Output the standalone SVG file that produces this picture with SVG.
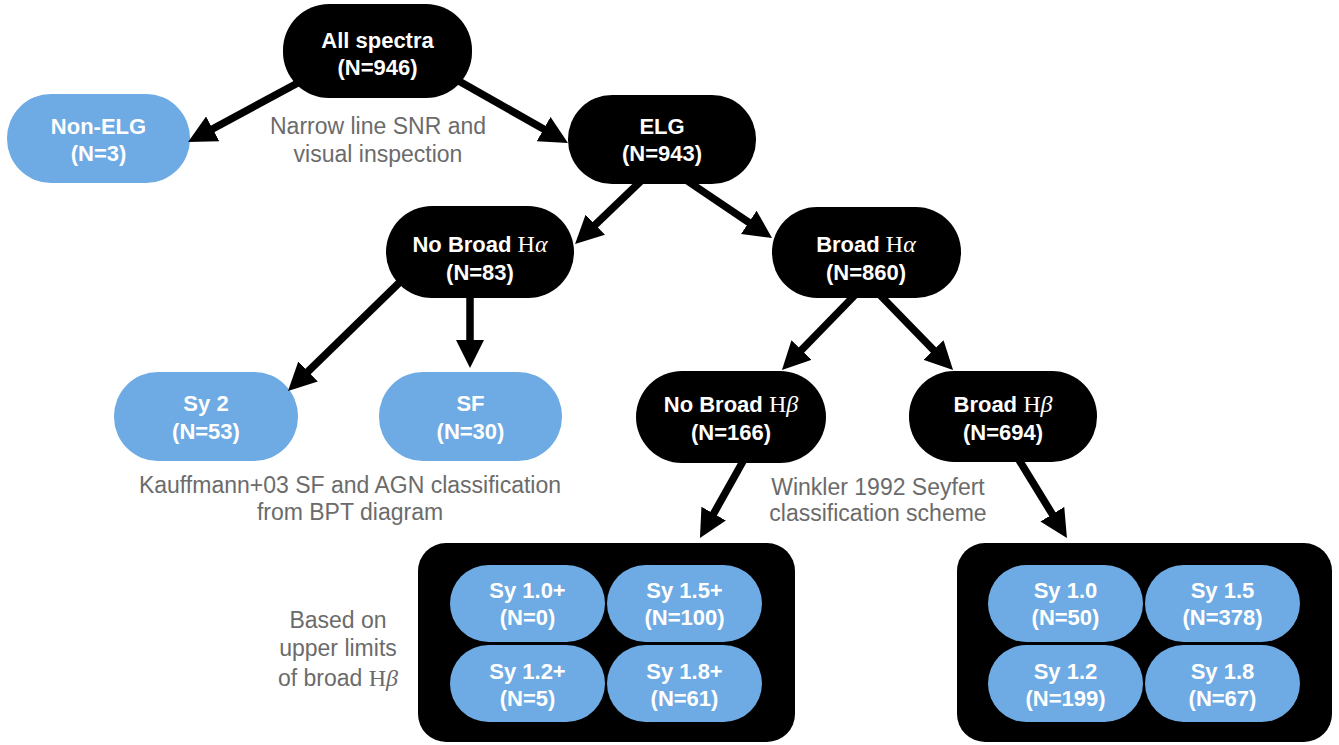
<svg xmlns="http://www.w3.org/2000/svg" width="1339" height="745" viewBox="0 0 1339 745">
<style>
.dark{fill:#000000}
.blue{fill:#6eaae3}
.lbl{font-family:"Liberation Sans",Arial,sans-serif;font-size:22px;font-weight:bold;fill:#ffffff;text-anchor:middle}
.note{font-family:"Liberation Sans",Arial,sans-serif;font-size:23px;fill:#6b6b6b;text-anchor:middle}
.m{font-family:"Liberation Serif","Times New Roman",serif;font-weight:normal;font-size:24px}
.mi{font-family:"Liberation Serif","Times New Roman",serif;font-weight:normal;font-style:italic;font-size:24px}
.conn{stroke:#000;stroke-width:7.5;fill:none;marker-end:url(#ah)}
</style>
<defs>
<marker id="ah" markerUnits="userSpaceOnUse" viewBox="0 0 28 28" markerWidth="28" markerHeight="28" refX="4" refY="14" orient="auto">
<path d="M0,0 L28,14 L0,28 z" fill="#000"/>
</marker>
</defs>
<rect width="1339" height="745" fill="#ffffff"/>

<g id="node-all">
<rect class="dark" x="283" y="4" width="189" height="94" rx="46"/>
<text class="lbl" x="377.5" y="48">All spectra</text>
<text class="lbl" x="377.5" y="75">(N=946)</text>
</g>
<g id="node-nonelg">
<rect class="blue" x="7" y="94" width="183" height="89" rx="44"/>
<text class="lbl" x="98.5" y="134">Non-ELG</text>
<text class="lbl" x="98.5" y="161">(N=3)</text>
</g>
<g id="node-elg">
<rect class="dark" x="568" y="95" width="188" height="89" rx="44"/>
<text class="lbl" x="662" y="134">ELG</text>
<text class="lbl" x="662" y="161">(N=943)</text>
</g>
<g id="node-nobroadha">
<rect class="dark" x="386" y="206" width="188" height="92" rx="46"/>
<text class="lbl" x="480" y="252">No Broad <tspan class="m">H</tspan><tspan class="mi">α</tspan></text>
<text class="lbl" x="480" y="280">(N=83)</text>
</g>
<g id="node-broadha">
<rect class="dark" x="772" y="207" width="189" height="91" rx="45"/>
<text class="lbl" x="866" y="252">Broad <tspan class="m">H</tspan><tspan class="mi">α</tspan></text>
<text class="lbl" x="866" y="280">(N=860)</text>
</g>
<g id="node-sy2">
<rect class="blue" x="114" y="372" width="184" height="89" rx="44"/>
<text class="lbl" x="206" y="411">Sy 2</text>
<text class="lbl" x="206" y="439">(N=53)</text>
</g>
<g id="node-sf">
<rect class="blue" x="379" y="372" width="183" height="89" rx="44"/>
<text class="lbl" x="470.5" y="411">SF</text>
<text class="lbl" x="470.5" y="439">(N=30)</text>
</g>
<g id="node-nobroadhb">
<rect class="dark" x="636" y="371" width="190" height="92" rx="46"/>
<text class="lbl" x="731" y="412">No Broad <tspan class="m">H</tspan><tspan class="mi">β</tspan></text>
<text class="lbl" x="731" y="440">(N=166)</text>
</g>
<g id="node-broadhb">
<rect class="dark" x="909" y="371" width="188" height="91" rx="45"/>
<text class="lbl" x="1003" y="412">Broad <tspan class="m">H</tspan><tspan class="mi">β</tspan></text>
<text class="lbl" x="1003" y="440">(N=694)</text>
</g>

<g id="group-upper-limits">
<rect class="dark" x="418" y="543" width="377" height="199" rx="28"/>
<g id="node-sy10p">
<rect class="blue" x="450" y="565" width="155" height="77" rx="38.5"/>
<text class="lbl" x="527.5" y="598">Sy 1.0+</text>
<text class="lbl" x="527.5" y="625">(N=0)</text>
</g>
<g id="node-sy15p">
<rect class="blue" x="607" y="565" width="155" height="77" rx="38.5"/>
<text class="lbl" x="684.5" y="598">Sy 1.5+</text>
<text class="lbl" x="684.5" y="625">(N=100)</text>
</g>
<g id="node-sy12p">
<rect class="blue" x="450" y="645" width="155" height="77" rx="38.5"/>
<text class="lbl" x="527.5" y="679">Sy 1.2+</text>
<text class="lbl" x="527.5" y="706">(N=5)</text>
</g>
<g id="node-sy18p">
<rect class="blue" x="607" y="645" width="155" height="77" rx="38.5"/>
<text class="lbl" x="684.5" y="679">Sy 1.8+</text>
<text class="lbl" x="684.5" y="706">(N=61)</text>
</g>
</g>

<g id="group-winkler">
<rect class="dark" x="957" y="543" width="375" height="199" rx="28"/>
<g id="node-sy10">
<rect class="blue" x="988" y="565" width="155" height="77" rx="38.5"/>
<text class="lbl" x="1065.5" y="598">Sy 1.0</text>
<text class="lbl" x="1065.5" y="625">(N=50)</text>
</g>
<g id="node-sy15">
<rect class="blue" x="1145" y="565" width="155" height="77" rx="38.5"/>
<text class="lbl" x="1222.5" y="598">Sy 1.5</text>
<text class="lbl" x="1222.5" y="625">(N=378)</text>
</g>
<g id="node-sy12">
<rect class="blue" x="988" y="645" width="155" height="77" rx="38.5"/>
<text class="lbl" x="1065.5" y="679">Sy 1.2</text>
<text class="lbl" x="1065.5" y="706">(N=199)</text>
</g>
<g id="node-sy18">
<rect class="blue" x="1145" y="645" width="155" height="77" rx="38.5"/>
<text class="lbl" x="1222.5" y="679">Sy 1.8</text>
<text class="lbl" x="1222.5" y="706">(N=67)</text>
</g>
</g>

<g id="notes">
<text class="note" x="378" y="134">Narrow line SNR and</text>
<text class="note" x="378" y="162">visual inspection</text>
<text class="note" x="350" y="493">Kauffmann+03 SF and AGN classification</text>
<text class="note" x="350" y="520">from BPT diagram</text>
<text class="note" x="878" y="495">Winkler 1992 Seyfert</text>
<text class="note" x="878" y="521">classification scheme</text>
<text class="note" x="338" y="628">Based on</text>
<text class="note" x="338" y="656">upper limits</text>
<text class="note" x="338" y="686">of broad <tspan class="m">H</tspan><tspan class="mi">β</tspan></text>
</g>

<g id="connectors">
<line class="conn" x1="307" y1="78" x2="209.2" y2="130.7"/>
<line class="conn" x1="450" y1="76" x2="547.1" y2="131.1"/>
<line class="conn" x1="643" y1="179" x2="592.4" y2="227.5"/>
<line class="conn" x1="686" y1="180" x2="752.1" y2="224.6"/>
<line class="conn" x1="401" y1="281" x2="305.2" y2="374.3"/>
<line class="conn" x1="470" y1="290" x2="470" y2="344"/>
<line class="conn" x1="856" y1="294" x2="798.7" y2="352.8"/>
<line class="conn" x1="879" y1="294" x2="936.3" y2="352.8"/>
<line class="conn" x1="746" y1="456" x2="711.7" y2="517.1"/>
<line class="conn" x1="1016" y1="455" x2="1054.4" y2="517.6"/>
</g>
</svg>
